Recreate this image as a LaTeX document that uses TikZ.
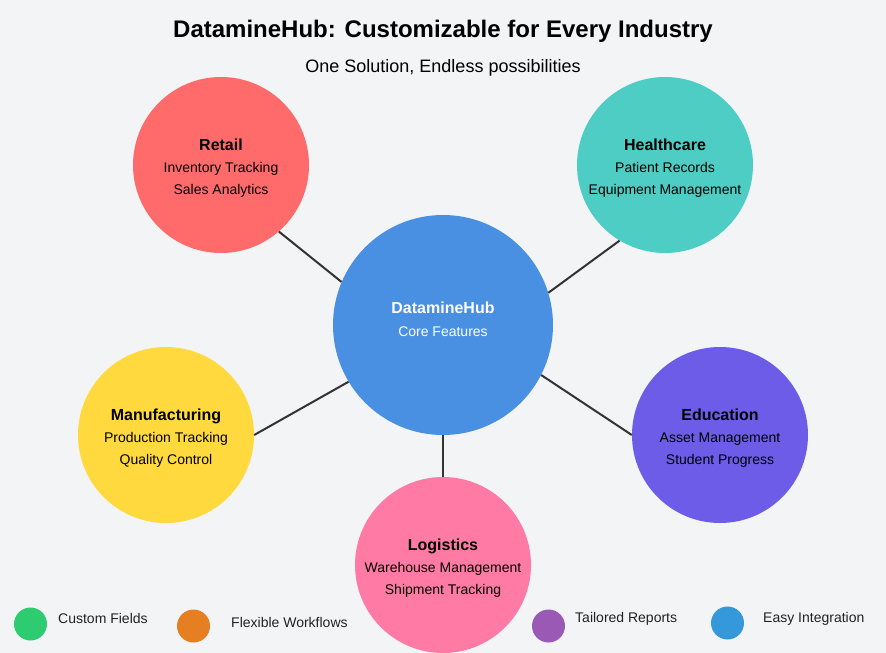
\documentclass[tikz,border=0pt]{standalone}
\usepackage{fontspec}
\setmainfont{Liberation Sans}
\usepackage{xcolor}
\definecolor{paper}{HTML}{F3F4F6}
\definecolor{ink}{HTML}{222222}
\definecolor{wire}{HTML}{333333}
\definecolor{hubblue}{HTML}{4A90E2}
\definecolor{coral}{HTML}{FF6B6B}
\definecolor{teal}{HTML}{4ECDC4}
\definecolor{sun}{HTML}{FFD93D}
\definecolor{violet}{HTML}{6C5CE7}
\definecolor{rose}{HTML}{FF7BA5}
\definecolor{leafgreen}{HTML}{2ECC71}
\definecolor{amber}{HTML}{E67E22}
\definecolor{plum}{HTML}{9B59B6}
\definecolor{sky}{HTML}{3498DB}
\usepackage{tikz}
\usetikzlibrary{positioning}
\newcommand{\sectitle}[1]{{\fontsize{16}{22}\selectfont\bfseries\rule{0pt}{18.5pt}#1}}

\begin{document}
\begin{tikzpicture}[
  x=1pt,y=-1pt,
  hub/.style={circle,fill=hubblue,text=white,minimum size=220pt,inner sep=0pt,
              align=center,font=\fontsize{14}{23}\selectfont},
  sector/.style={circle,fill=#1,text=black,minimum size=176pt,inner sep=0pt,
                 align=center,font=\fontsize{14}{22}\selectfont},
  link/.style={draw=wire,line width=2pt},
  legdot/.style={circle,fill=#1,minimum size=33pt,inner sep=0pt},
  legtext/.style={anchor=west,font=\fontsize{14}{16}\selectfont,text=ink,inner sep=0pt},
]
  \useasboundingbox[fill=paper] (0,0) rectangle (886,653);

  % heading
  \node[font=\fontsize{24}{28}\selectfont\bfseries] (title) at (443,31)
    {DatamineHub: Customizable for Every Industry};
  \node[font=\fontsize{18}{21}\selectfont] (subtitle) at (443,68)
    {One Solution, Endless possibilities};

  % hub and sectors
  \node[hub] (hub) at (443,325) {};
  \node[text=white,align=center,font=\fontsize{14}{23}\selectfont] (hubtxt) at (443,319)
    {{\fontsize{16}{23}\selectfont\bfseries DatamineHub}\\Core Features};

  \node[sector=coral] (retail) at (221,165)
    {\sectitle{Retail}\\Inventory Tracking\\Sales Analytics};
  \node[sector=teal] (health) at (665,165)
    {\sectitle{Healthcare}\\Patient Records\\Equipment Management};
  \node[sector=sun] (manuf) at (166,435)
    {\sectitle{Manufacturing}\\Production Tracking\\Quality Control};
  \node[sector=violet] (edu) at (720,435)
    {\sectitle{Education}\\Asset Management\\Student Progress};
  \node[sector=rose] (logist) at (443,565)
    {\sectitle{Logistics}\\Warehouse Management\\Shipment Tracking};

  % spokes
  \draw[link] (hub.157.6) -- (retail.-49);
  \draw[link] (hub.17.8) -- (health.-121.9);
  \draw[link] (hub.211.4) -- (manuf.east);
  \draw[link] (hub.-27.9) -- (edu.west);
  \draw[link] (hub.south) -- (logist.north);

  % legend
  \node[legdot=leafgreen] (dot1) at (30.5,624) {};
  \node[legtext] (leg1) at (58,618) {Custom Fields};
  \node[legdot=amber] (dot2) at (193.5,626) {};
  \node[legtext] (leg2) at (231,622) {Flexible Workflows};
  \node[legdot=plum] (dot3) at (548.5,626) {};
  \node[legtext] (leg3) at (575,619) {Tailored Reports};
  \node[legdot=sky] (dot4) at (727.5,623) {};
  \node[legtext] (leg4) at (763,619) {Easy Integration};

\end{tikzpicture}
\end{document}
